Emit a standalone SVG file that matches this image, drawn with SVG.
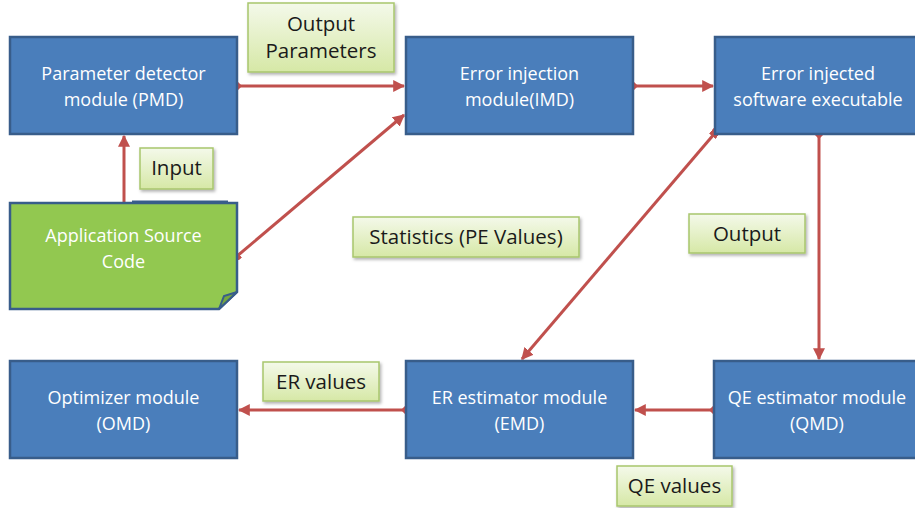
<svg xmlns="http://www.w3.org/2000/svg" width="915" height="508" viewBox="0 0 915 508">
<defs>
<linearGradient id="lg" x1="0" y1="0" x2="0" y2="1">
<stop offset="0" stop-color="#F4F9EA"/>
<stop offset="1" stop-color="#D6E8A6"/>
</linearGradient>
<filter id="sh" x="-10%" y="-10%" width="130%" height="140%">
<feDropShadow dx="1.5" dy="2" stdDeviation="1.5" flood-color="#000" flood-opacity="0.3"/>
</filter>
<marker id="ah" viewBox="0 0 10 10" refX="9" refY="5" markerWidth="4" markerHeight="4" orient="auto" markerUnits="strokeWidth">
<path d="M0,0 L10,5 L0,10 z" fill="#C0504D"/>
</marker>
<marker id="dm" viewBox="0 0 10 10" refX="5" refY="5" markerWidth="3.4" markerHeight="3.4" orient="auto" markerUnits="strokeWidth">
<path d="M0,5 L5,0 L10,5 L5,10 z" fill="#C0504D"/>
</marker>
<marker id="sq" viewBox="0 0 10 10" refX="5" refY="5" markerWidth="2.8" markerHeight="2.8" orient="auto" markerUnits="strokeWidth">
<rect x="0" y="0" width="10" height="10" fill="#C0504D"/>
</marker>
</defs>
<style>
.box{fill:#4A7EBB;stroke:#385D8A;stroke-width:2.5}
.bt{font-family:"Open Sans","Noto Sans",sans-serif;font-size:18px;fill:#FFFFFF;text-anchor:middle}
.lb{fill:url(#lg);stroke:#A8C66C;stroke-width:1.5;filter:url(#sh)}
.lt{font-family:"Open Sans","Noto Sans",sans-serif;font-size:20.5px;fill:#1A1A1A;text-anchor:middle}
.cn{stroke:#C0504D;stroke-width:3;fill:none}
</style>
<rect width="915" height="508" fill="#FFFFFF"/>

<g id="connectors">
<line class="cn" x1="237" y1="86" x2="404" y2="86" marker-start="url(#dm)" marker-end="url(#ah)"/>
<line class="cn" x1="633" y1="86" x2="713" y2="86" marker-start="url(#dm)" marker-end="url(#ah)"/>
<line class="cn" x1="124" y1="202" x2="124" y2="136" marker-end="url(#ah)"/>
<line class="cn" x1="236" y1="257" x2="404" y2="115" marker-start="url(#sq)" marker-end="url(#ah)"/>
<line class="cn" x1="715" y1="133" x2="522" y2="359" marker-start="url(#sq)" marker-end="url(#ah)"/>
<line class="cn" x1="819" y1="134" x2="819" y2="359" marker-start="url(#dm)" marker-end="url(#ah)"/>
<line class="cn" x1="714" y1="410" x2="635" y2="410" marker-start="url(#dm)" marker-end="url(#ah)"/>
<line class="cn" x1="406" y1="410" x2="239" y2="410" marker-start="url(#dm)" marker-end="url(#ah)"/>
</g>

<g id="pmd">
<rect class="box" x="10" y="37" width="227" height="97"/>
<text class="bt" x="123.5" y="80">Parameter detector</text>
<text class="bt" x="123.5" y="106">module (PMD)</text>
</g>
<g id="imd">
<rect class="box" x="406" y="37" width="227" height="97"/>
<text class="bt" x="519.5" y="80">Error injection</text>
<text class="bt" x="519.5" y="106">module(IMD)</text>
</g>
<g id="exe">
<rect class="box" x="715" y="37" width="205" height="97"/>
<text class="bt" x="818" y="80">Error injected</text>
<text class="bt" x="818" y="106">software executable</text>
</g>
<g id="src">
<path d="M10,203 L237,203 L237,292 L219,309 L10,309 Z" fill="#92C850" stroke="#385D8A" stroke-width="2.5"/>
<path d="M237,292 L224,296 L219,309 Z" fill="#76A73E" stroke="#385D8A" stroke-width="2"/>
<line x1="132" y1="201.5" x2="228" y2="201.5" stroke="#385D8A" stroke-width="2"/>
<text class="bt" x="123.5" y="242">Application Source</text>
<text class="bt" x="123.5" y="268">Code</text>
</g>
<g id="omd">
<rect class="box" x="10" y="361" width="227" height="97"/>
<text class="bt" x="123.5" y="404">Optimizer module</text>
<text class="bt" x="123.5" y="430">(OMD)</text>
</g>
<g id="emd">
<rect class="box" x="406" y="361" width="227" height="97"/>
<text class="bt" x="519.5" y="404">ER estimator module</text>
<text class="bt" x="519.5" y="430">(EMD)</text>
</g>
<g id="qmd">
<rect class="box" x="714" y="361" width="206" height="97"/>
<text class="bt" x="817" y="404">QE estimator module</text>
<text class="bt" x="817" y="430">(QMD)</text>
</g>

<g id="lbl-outparams">
<rect class="lb" x="248" y="3" width="146" height="69"/>
<text class="lt" x="321" y="31">Output</text>
<text class="lt" x="321" y="58">Parameters</text>
</g>
<g id="lbl-input">
<rect class="lb" x="140" y="148" width="73" height="41"/>
<text class="lt" x="176.5" y="175">Input</text>
</g>
<g id="lbl-stats">
<rect class="lb" x="353" y="217" width="226" height="40"/>
<text class="lt" x="466" y="244">Statistics (PE Values)</text>
</g>
<g id="lbl-output">
<rect class="lb" x="689" y="214" width="116" height="39"/>
<text class="lt" x="747" y="241">Output</text>
</g>
<g id="lbl-er">
<rect class="lb" x="263" y="362" width="116" height="39"/>
<text class="lt" x="321" y="389">ER values</text>
</g>
<g id="lbl-qe">
<rect class="lb" x="617" y="466" width="115" height="40"/>
<text class="lt" x="674.5" y="493">QE values</text>
</g>
</svg>
